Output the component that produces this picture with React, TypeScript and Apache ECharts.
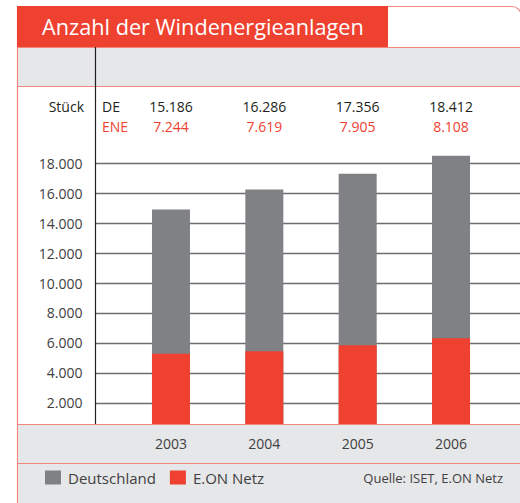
import React, { useEffect, useRef } from "react";
import * as echarts from "echarts";

const years = ["2003", "2004", "2005", "2006"];
// table values printed above the chart
const deTable = [15186, 16286, 17356, 18412];
const eneTable = [7244, 7619, 7905, 8108];
// bar heights as drawn
const deBars = [14910, 16250, 17310, 18510];
const eneBars = [5270, 5450, 5850, 6310];
const yMin = 0;
const yMax = 18000;
const yInterval = 2000;
const seriesNames = ["Deutschland", "E.ON Netz"];
const title = "Anzahl der Windenergieanlagen";
const source = "Quelle: ISET, E.ON Netz";

const RED = "#ee4130";
const GRAY = "#808184";
const BAND = "#e6e7e8";
const LINE_RED = "#f3857a";
const TXT = "#414042";
const FONT = "Open Sans";

const fmt = (n: number) => String(n).replace(/\B(?=(\d{3})+(?!\d))/g, ".");

export default function App() {
  const ref = useRef<HTMLDivElement>(null);
  useEffect(() => {
    document.body.style.margin = "0";
    const chart = echarts.init(ref.current!, undefined, { renderer: "svg" });
    const gridTop = 163.3;
    const gridBottom = 503 - 432.7;
    chart.setOption({
      animation: false,
      textStyle: { fontFamily: FONT },
      grid: [
        { left: 95.5, right: 0, top: gridTop, bottom: gridBottom },
        { left: 124.3, right: 22.3, top: gridTop, bottom: gridBottom },
      ],
      xAxis: [
        { type: "value", gridIndex: 0, show: false, min: 0, max: 1 },
        {
          type: "category",
          gridIndex: 1,
          data: years,
          position: "bottom",
          z: 20,
          axisLine: { show: false },
          axisTick: { show: false },
          axisLabel: { margin: 4, fontSize: 14, color: TXT, fontFamily: FONT },
        },
        {
          type: "category",
          gridIndex: 1,
          data: years,
          position: "top",
          axisLine: { show: false },
          axisTick: { show: false },
          axisLabel: {
            margin: 27,
            formatter: (_v: string, i: number) =>
              `{de|${fmt(deTable[i])}}\n{ene|${fmt(eneTable[i])}}`,
            rich: {
              de: { fontSize: 14, color: "#231f20", lineHeight: 20, fontFamily: FONT },
              ene: { fontSize: 14, color: RED, lineHeight: 20, fontFamily: FONT },
            },
          },
        },
      ],
      yAxis: [
        {
          type: "value",
          gridIndex: 0,
          min: yMin,
          max: yMax,
          interval: yInterval,
          axisLine: { show: false },
          axisTick: { show: false },
          splitLine: { show: true, lineStyle: { color: "#6d6e71", width: 1.4 } },
          axisLabel: {
            margin: 13,
            fontSize: 14,
            color: TXT,
            fontFamily: FONT,
            formatter: (v: number) => (v === 0 ? "" : fmt(v)),
          },
        },
        {
          type: "value",
          gridIndex: 1,
          min: yMin,
          max: yMax,
          interval: yInterval,
          show: false,
          splitLine: { show: false },
        },
      ],
      legend: {
        left: 45,
        top: 470,
        padding: 0,
        z: 30,
        itemWidth: 16,
        itemHeight: 14,
        itemGap: 14,
        icon: "rect",
        textStyle: { fontSize: 15, color: TXT, fontFamily: FONT, padding: [0, 0, 0, 2] },
        data: seriesNames,
        selectedMode: false,
      },
      series: [
        {
          name: seriesNames[0],
          type: "bar",
          xAxisIndex: 1,
          yAxisIndex: 1,
          data: deBars,
          barWidth: 38,
          clip: false,
          itemStyle: { color: GRAY },
        },
        {
          name: seriesNames[1],
          type: "bar",
          xAxisIndex: 1,
          yAxisIndex: 1,
          data: eneBars,
          barWidth: 38,
          barGap: "-100%",
          clip: false,
          itemStyle: { color: RED },
        },
      ],
      graphic: [
        // frame
        {
          type: "rect",
          z: 1,
          shape: { x: 17.5, y: 6.5, width: 503.5, height: 520, r: [0, 9, 0, 16] },
          style: { fill: "none", stroke: LINE_RED, lineWidth: 1.2 },
        },
        // title box
        {
          type: "rect",
          z: 12,
          shape: { x: 17, y: 6, width: 371, height: 41 },
          style: { fill: RED },
        },
        {
          type: "text",
          z: 13,
          x: 42,
          y: 26.5,
          style: {
            text: title,
            fill: "#ffffff",
            font: `21.7px "${FONT}"`,
            verticalAlign: "middle",
          },
        },
        // top band
        {
          type: "rect",
          z: 5,
          shape: { x: 18, y: 47, width: 502, height: 39 },
          style: { fill: BAND },
        },
        {
          type: "line",
          z: 6,
          shape: { x1: 18, y1: 47.5, x2: 520, y2: 47.5 },
          style: { stroke: LINE_RED, lineWidth: 1 },
        },
        {
          type: "line",
          z: 6,
          shape: { x1: 18, y1: 86.5, x2: 520, y2: 86.5 },
          style: { stroke: LINE_RED, lineWidth: 1 },
        },
        // bottom band
        {
          type: "rect",
          z: 5,
          shape: { x: 18, y: 424, width: 502, height: 100, r: [0, 0, 0, 15] },
          style: { fill: BAND },
        },
        {
          type: "line",
          z: 6,
          shape: { x1: 18, y1: 424.5, x2: 520, y2: 424.5 },
          style: { stroke: LINE_RED, lineWidth: 1.2 },
        },
        {
          type: "line",
          z: 6,
          shape: { x1: 18, y1: 463.5, x2: 520, y2: 463.5 },
          style: { stroke: LINE_RED, lineWidth: 1 },
        },
        // vertical axis line
        {
          type: "line",
          z: 7,
          shape: { x1: 95.5, y1: 47, x2: 95.5, y2: 424 },
          style: { stroke: "#231f20", lineWidth: 1.2 },
        },
        // row labels
        {
          type: "text",
          z: 7,
          x: 84,
          y: 106,
          style: {
            text: "Stück",
            fill: "#231f20",
            font: `14px "${FONT}"`,
            align: "right",
            verticalAlign: "middle",
          },
        },
        {
          type: "text",
          z: 7,
          x: 102,
          y: 106,
          style: { text: "DE", fill: "#231f20", font: `14px "${FONT}"`, verticalAlign: "middle" },
        },
        {
          type: "text",
          z: 7,
          x: 102,
          y: 126,
          style: { text: "ENE", fill: RED, font: `14px "${FONT}"`, verticalAlign: "middle" },
        },
        {
          type: "text",
          z: 30,
          x: 503,
          y: 477.5,
          style: {
            text: source,
            fill: TXT,
            font: `13px "${FONT}"`,
            align: "right",
            verticalAlign: "middle",
          },
        },
      ],
    });
    return () => chart.dispose();
  }, []);
  return <div ref={ref} style={{ width: 520, height: 503 }} />;
}
